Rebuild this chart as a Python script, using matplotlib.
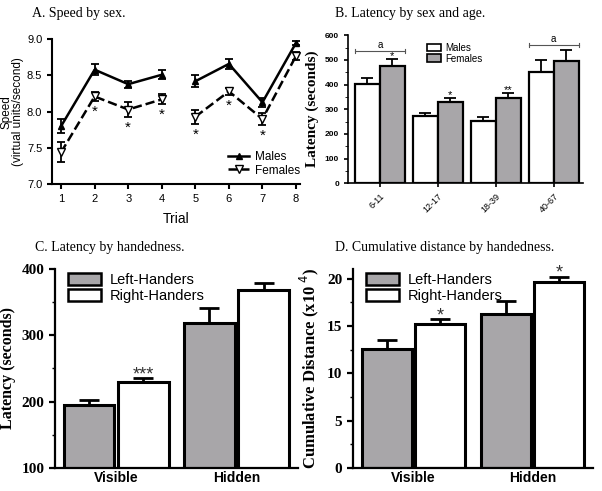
import numpy as np
import matplotlib
matplotlib.use("Agg")
import matplotlib.pyplot as plt
from matplotlib.patches import Patch
from matplotlib.lines import Line2D
from matplotlib.ticker import MultipleLocator

GRAY = "#a8a6a9"
SERIF = "Liberation Serif"
SANS = "Liberation Sans"

# ── data ────────────────────────────────────────────────────────────────────
trials = [1, 2, 3, 4, 5, 6, 7, 8]
male_speed = [7.80, 8.58, 8.38, 8.51, 8.42, 8.66, 8.13, 8.95]
male_speed_err = [0.10, 0.08, 0.05, 0.06, 0.08, 0.07, 0.06, 0.03]
female_speed = [7.44, 8.21, 8.03, 8.17, 7.93, 8.28, 7.90, 8.77]
female_speed_err = [0.14, 0.06, 0.10, 0.07, 0.10, 0.05, 0.08, 0.05]
speed_sig = ["", "*", "*", "*", "*", "*", "*", ""]
segments = [(0, 4), (4, 8)]

age_groups = ["6-11", "12-17", "18-39", "40-67"]
male_lat = [403, 273, 253, 450]
male_lat_err = [25, 10, 15, 50]
female_lat = [475, 328, 345, 497]
female_lat_err = [30, 18, 20, 45]
age_sig = ["*", "*", "**", ""]
bracket_groups = [0, 3]
bracket_y = [535, 560]

conditions = ["Visible", "Hidden"]
left_lat = [195, 318]
left_lat_err = [8, 23]
right_lat = [230, 369]
right_lat_err = [5, 10]
lat_sig = ["***", ""]

left_dist = [12.6, 16.3]
left_dist_err = [0.9, 1.3]
right_dist = [15.2, 19.6]
right_dist_err = [0.5, 0.6]
dist_sig = ["*", "*"]

fig = plt.figure(figsize=(6.02, 4.91), dpi=100)


def clean(ax, lw=1.5):
    for s in ["top", "right"]:
        ax.spines[s].set_visible(False)
    for s in ["left", "bottom"]:
        ax.spines[s].set_linewidth(lw)
    ax.tick_params(direction="out", width=lw)


# ── A. Speed by sex ─────────────────────────────────────────────────────────
ax = fig.add_axes([0.0864, 0.625, 0.412, 0.295])
t = np.array(trials)
for a, b in segments:
    ax.errorbar(t[a:b], male_speed[a:b], yerr=male_speed_err[a:b], color="black",
                lw=1.8, marker="^", ms=5, capsize=3, elinewidth=1.3, capthick=1.3)
    ax.errorbar(t[a:b], female_speed[a:b], yerr=female_speed_err[a:b], color="black",
                lw=1.8, ls="--", marker="v", ms=6, mfc="white", mec="black",
                capsize=3, elinewidth=1.3, capthick=1.3)
for x, y, e, s in zip(trials, female_speed, female_speed_err, speed_sig):
    if s:
        ax.text(x, y - e - 0.05, s, ha="center", va="top", fontsize=11, family=SANS)
ax.set_xlim(0.73, 8.12)
ax.set_ylim(7.0, 9.0)
ax.set_xticks(trials)
ax.set_yticks([7.0, 7.5, 8.0, 8.5, 9.0])
ax.set_yticklabels(["7.0", "7.5", "8.0", "8.5", "9.0"])
for lab in ax.get_xticklabels() + ax.get_yticklabels():
    lab.set_family(SANS)
    lab.set_fontsize(8)
clean(ax)
ax.set_xlabel("Trial", family=SANS, fontsize=10, labelpad=6)
ax.set_ylabel("Speed\n(virtual units/second)", family=SANS, fontsize=8.5, labelpad=2,
              linespacing=1.0)
handles = [Line2D([], [], color="black", lw=1.8, marker="^", ms=5),
           Line2D([], [], color="black", lw=1.8, ls="--", marker="v", ms=6, mfc="white")]
ax.legend(handles, ["Males", "Females"], loc="lower right", frameon=False,
          prop={"family": SANS, "size": 8.5}, handlelength=1.8, handletextpad=0.5,
          borderaxespad=0.0, labelspacing=0.1, bbox_to_anchor=(1.02, 0.02))
fig.text(0.053, 0.972, "A. Speed by sex.", family=SERIF, fontsize=10, va="center")

# ── B. Latency by sex and age ───────────────────────────────────────────────
ax = fig.add_axes([0.578, 0.627, 0.390, 0.301])
gx = np.arange(len(age_groups))
w = 0.43
ax.bar(gx - w / 2, male_lat, w, color="white", edgecolor="black", lw=1.6,
       yerr=[np.zeros(4), male_lat_err], capsize=4,
       error_kw=dict(elinewidth=1.3, capthick=1.3))
ax.bar(gx + w / 2, female_lat, w, color=GRAY, edgecolor="black", lw=1.6,
       yerr=[np.zeros(4), female_lat_err], capsize=4,
       error_kw=dict(elinewidth=1.3, capthick=1.3))
for x, y, e, s in zip(gx, female_lat, female_lat_err, age_sig):
    if s:
        ax.text(x + w / 2, y + e - 8, s, ha="center", va="bottom", fontsize=8, family=SANS)
for g, y in zip(bracket_groups, bracket_y):
    ax.plot([g - w, g + w], [y, y], color="#555555", lw=0.8)
    ax.plot([g - w, g - w], [y - 8, y + 8], color="#555555", lw=0.8)
    ax.plot([g + w, g + w], [y - 8, y + 8], color="#555555", lw=0.8)
    ax.text(g, y + 4, "a", ha="center", va="bottom", fontsize=7, family=SANS)
ax.set_xlim(-0.55, 3.5)
ax.set_ylim(0, 600)
ax.set_xticks(gx)
ax.set_xticklabels(age_groups, rotation=45, ha="right", rotation_mode="anchor",
                   family=SANS, fontsize=6.5)
ax.set_yticks(range(0, 601, 100))
ax.yaxis.set_minor_locator(MultipleLocator(50))
for lab in ax.get_yticklabels():
    lab.set_family(SANS)
    lab.set_fontsize(6)
    lab.set_fontweight("bold")
clean(ax, 1.2)
ax.tick_params(which="minor", length=2)
ax.tick_params(length=3)
ax.set_ylabel("Latency (seconds)", family=SERIF, fontsize=11, fontweight="bold")
handles = [Patch(facecolor="white", edgecolor="black", lw=1.2),
           Patch(facecolor=GRAY, edgecolor="black", lw=1.2)]
ax.legend(handles, ["Males", "Females"], loc="upper left", bbox_to_anchor=(0.3, 1.01),
          frameon=False, prop={"family": SANS, "size": 7}, handlelength=1.4,
          handleheight=0.8, labelspacing=0.1, handletextpad=0.5)
fig.text(0.557, 0.972, "B. Latency by sex and age.", family=SERIF, fontsize=10, va="center")


# ── C / D. handedness panels ────────────────────────────────────────────────
def hand_panel(rect, left, left_err, right, right_err, sig, ylim, yticks, minor,
               ylabel, ylfs, title, title_x):
    ax = fig.add_axes(rect)
    cx = np.arange(len(conditions))
    w = 0.42
    gap = 0.015
    ax.bar(cx - w / 2 - gap, left, w, color=GRAY, edgecolor="black", lw=2.2,
           yerr=[np.zeros(2), left_err], capsize=7,
           error_kw=dict(elinewidth=2, capthick=2))
    ax.bar(cx + w / 2 + gap, right, w, color="white", edgecolor="black", lw=2.2,
           yerr=[np.zeros(2), right_err], capsize=7,
           error_kw=dict(elinewidth=2, capthick=2))
    span = ylim[1] - ylim[0]
    for x, y, e, s in zip(cx, right, right_err, sig):
        if s:
            ax.text(x + w / 2 + gap, y + e - 0.025 * span, s, ha="center", va="bottom",
                    fontsize=13, family=SANS, color="#333333")
    ax.set_xlim(-0.51, 1.51)
    ax.set_ylim(*ylim)
    ax.set_xticks(cx)
    ax.set_xticklabels(conditions, family=SANS, fontsize=10, fontweight="bold")
    ax.set_yticks(yticks)
    ax.yaxis.set_minor_locator(MultipleLocator(minor))
    for lab in ax.get_yticklabels():
        lab.set_family(SERIF)
        lab.set_fontsize(11)
        lab.set_fontweight("bold")
    clean(ax, 1.6)
    ax.tick_params(axis="x", length=0, pad=2)
    ax.tick_params(axis="y", length=4)
    ax.tick_params(which="minor", length=2.5, width=1)
    ax.set_ylabel(ylabel, family=SERIF, fontsize=ylfs, fontweight="bold", labelpad=4)
    handles = [Patch(facecolor=GRAY, edgecolor="black", lw=1.8),
               Patch(facecolor="white", edgecolor="black", lw=1.8)]
    ax.legend(handles, ["Left-Handers", "Right-Handers"], loc="upper left",
              bbox_to_anchor=(0.03, 1.01), frameon=False,
              prop={"family": SANS, "size": 10.5}, handlelength=2.3, handleheight=0.9,
              labelspacing=0.15, handletextpad=0.6, borderaxespad=0.0)
    fig.text(title_x, 0.495, title, family=SERIF, fontsize=10, va="center")
    return ax


hand_panel([0.091, 0.047, 0.404, 0.405], left_lat, left_lat_err, right_lat, right_lat_err,
           lat_sig, (100, 400), [100, 200, 300, 400], 50, "Latency (seconds)", 11.5,
           "C. Latency by handedness.", 0.058)
hand_panel([0.586, 0.047, 0.399, 0.405], left_dist, left_dist_err, right_dist, right_dist_err,
           dist_sig, (0, 21), [0, 5, 10, 15, 20], 2.5, "Cumulative Distance (x10$^{\\ 4}$)", 12,
           "D. Cumulative distance by handedness.", 0.557)

fig.savefig("out.png", dpi=100, facecolor="white")
